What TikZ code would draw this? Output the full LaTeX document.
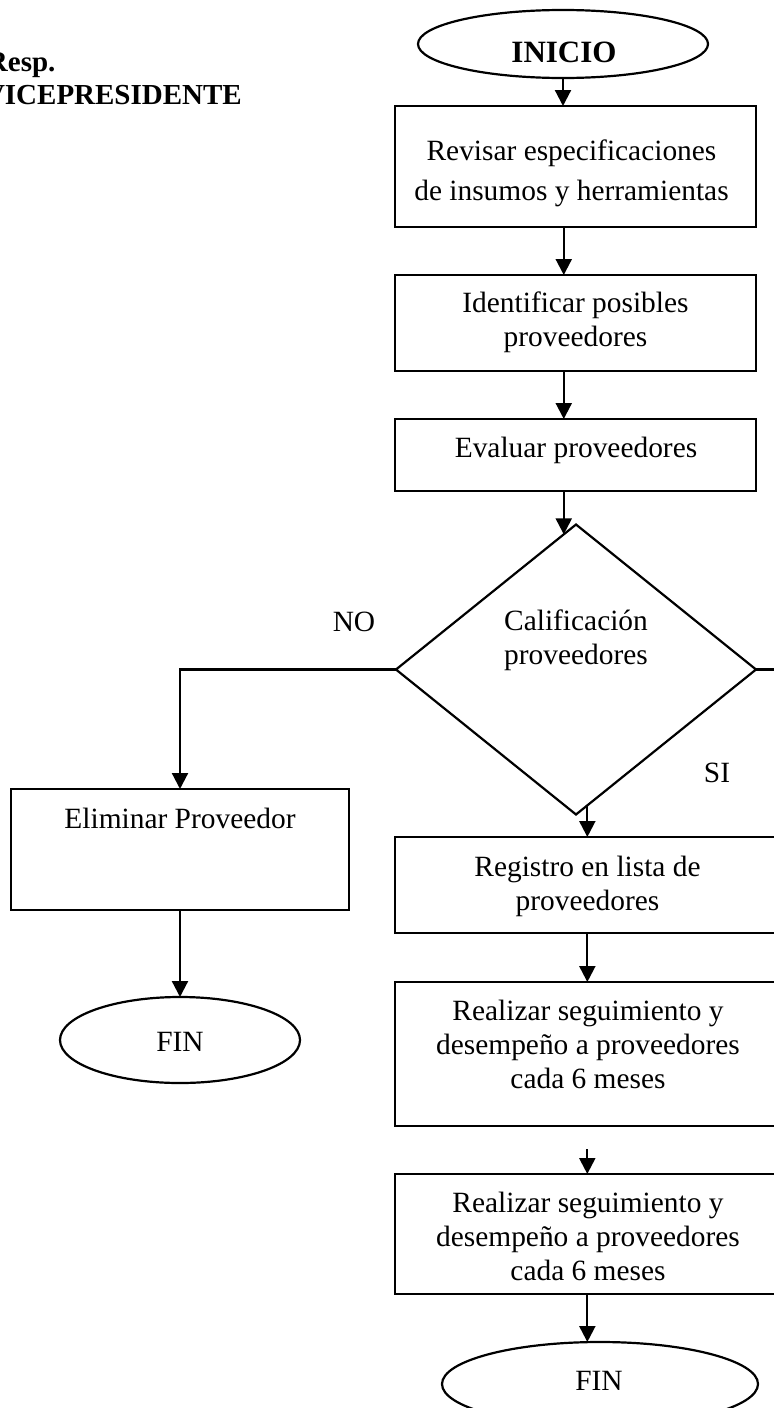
\documentclass[tikz,border=0pt]{standalone}
\usepackage{fontspec}
\setmainfont{Liberation Serif}
\usetikzlibrary{shapes.geometric,arrows.meta,calc}
\begin{document}
\begin{tikzpicture}[x=0.5pt,y=-0.5pt,
  every node/.style={inner sep=0pt, outer sep=0pt},
  flowbox/.style={draw, line width=1.1pt, rectangle},
  term/.style={draw, line width=1.1pt, ellipse},
  decide/.style={draw, line width=1.1pt, diamond},
  txt/.style={font=\fontsize{14.7pt}{17pt}\selectfont, align=center},
  head/.style={font=\bfseries\fontsize{14.5pt}{17pt}\selectfont},
  arr/.style={line width=1.1pt, -{Triangle[length=8pt,width=8pt]}},
  link/.style={line width=1.1pt}]

% page
\fill[white] (0,0) rectangle (774,1408);
\useasboundingbox (0,0) rectangle (774,1408);

% responsible
\node[head, anchor=base west] (resp) at (-13,71) {Resp.};
\node[head, anchor=base west] (vp) at (-16,104) {VICEPRESIDENTE};

% shapes
\node[term, minimum width=145pt, minimum height=34pt] (ini) at (563,44) {};
\node[flowbox, minimum width=180.5pt, minimum height=60.5pt] (b1) at (575.5,166.5) {};
\node[flowbox, minimum width=180.5pt, minimum height=48pt] (b2) at (575.5,323) {};
\node[flowbox, minimum width=180.5pt, minimum height=36pt] (b3) at (575.5,455) {};
\node[decide, minimum width=180pt, minimum height=145pt] (dia) at (576,669.5) {};
\node[flowbox, minimum width=169pt, minimum height=60.5pt] (elim) at (180,849.5) {};
\node[term, minimum width=120pt, minimum height=43pt] (fin1) at (180,1040) {};
\node[flowbox, minimum width=192pt, minimum height=48pt] (b4) at (587,885) {};
\node[flowbox, minimum width=192pt, minimum height=72pt] (b5) at (587,1054) {};
\node[flowbox, minimum width=192pt, minimum height=60pt] (b6) at (587,1234) {};
\node[term, minimum width=158pt, minimum height=42pt] (fin2) at (600,1384) {};

% texts
\node[txt, font=\bfseries\fontsize{15.5pt}{18pt}\selectfont, anchor=base] (tini) at (564,62) {INICIO};
\node[txt, font=\fontsize{14.7pt}{20pt}\selectfont, anchor=north] (t1) at (571.5,140) {Revisar especificaciones\\de insumos y herramientas};
\node[txt, anchor=north] (t2) at (575.5,292) {Identificar posibles\\proveedores};
\node[txt, anchor=base] (t3) at (576,457) {Evaluar proveedores};
\node[txt, anchor=north] (tq) at (576,610) {Calificación\\proveedores};
\node[txt, anchor=base] (tno) at (354,631) {NO};
\node[txt, anchor=base] (tsi) at (717,782) {SI};
\node[txt, anchor=base] (telim) at (180,828) {Eliminar Proveedor};
\node[txt, anchor=base] (tfin1) at (180,1051) {FIN};
\node[txt, anchor=north] (t4) at (587.5,856) {Registro en lista de\\proveedores};
\node[txt, anchor=north] (t5) at (588,1000) {Realizar seguimiento y\\desempeño a proveedores\\cada 6 meses};
\node[txt, anchor=north] (t6) at (588,1192) {Realizar seguimiento y\\desempeño a proveedores\\cada 6 meses};
\node[txt, anchor=base] (tfin2) at (599,1390) {FIN};

% connector end points
\coordinate (dn) at ($(dia.north)!0.068!(dia.west)$);
\coordinate (ds) at ($(dia.south)!0.063!(dia.east)$);
\coordinate (s5) at (587.3,1149);
\coordinate (offR) at (790,669.5);

% connectors
\draw[arr] (ini.south) -- (ini.south |- b1.north);
\draw[arr] (b1.south -| dn) -- (b2.north -| dn);
\draw[arr] (b2.south -| dn) -- (b3.north -| dn);
\draw[arr] (b3.south -| dn) -- (dn);
\draw[arr] (dia.west) -| (elim.north);
\draw[arr] (elim.south) -- (fin1.north);
\draw[link] (dia.east) -- (offR);
\draw[arr] (ds) -- (ds |- b4.north);
\draw[arr] (b4.south -| ds) -- (b5.north -| ds);
\draw[arr] (s5) -- (s5 |- b6.north);
\draw[arr] (b6.south -| ds) -- (ds |- fin2.north);
\end{tikzpicture}
\end{document}
